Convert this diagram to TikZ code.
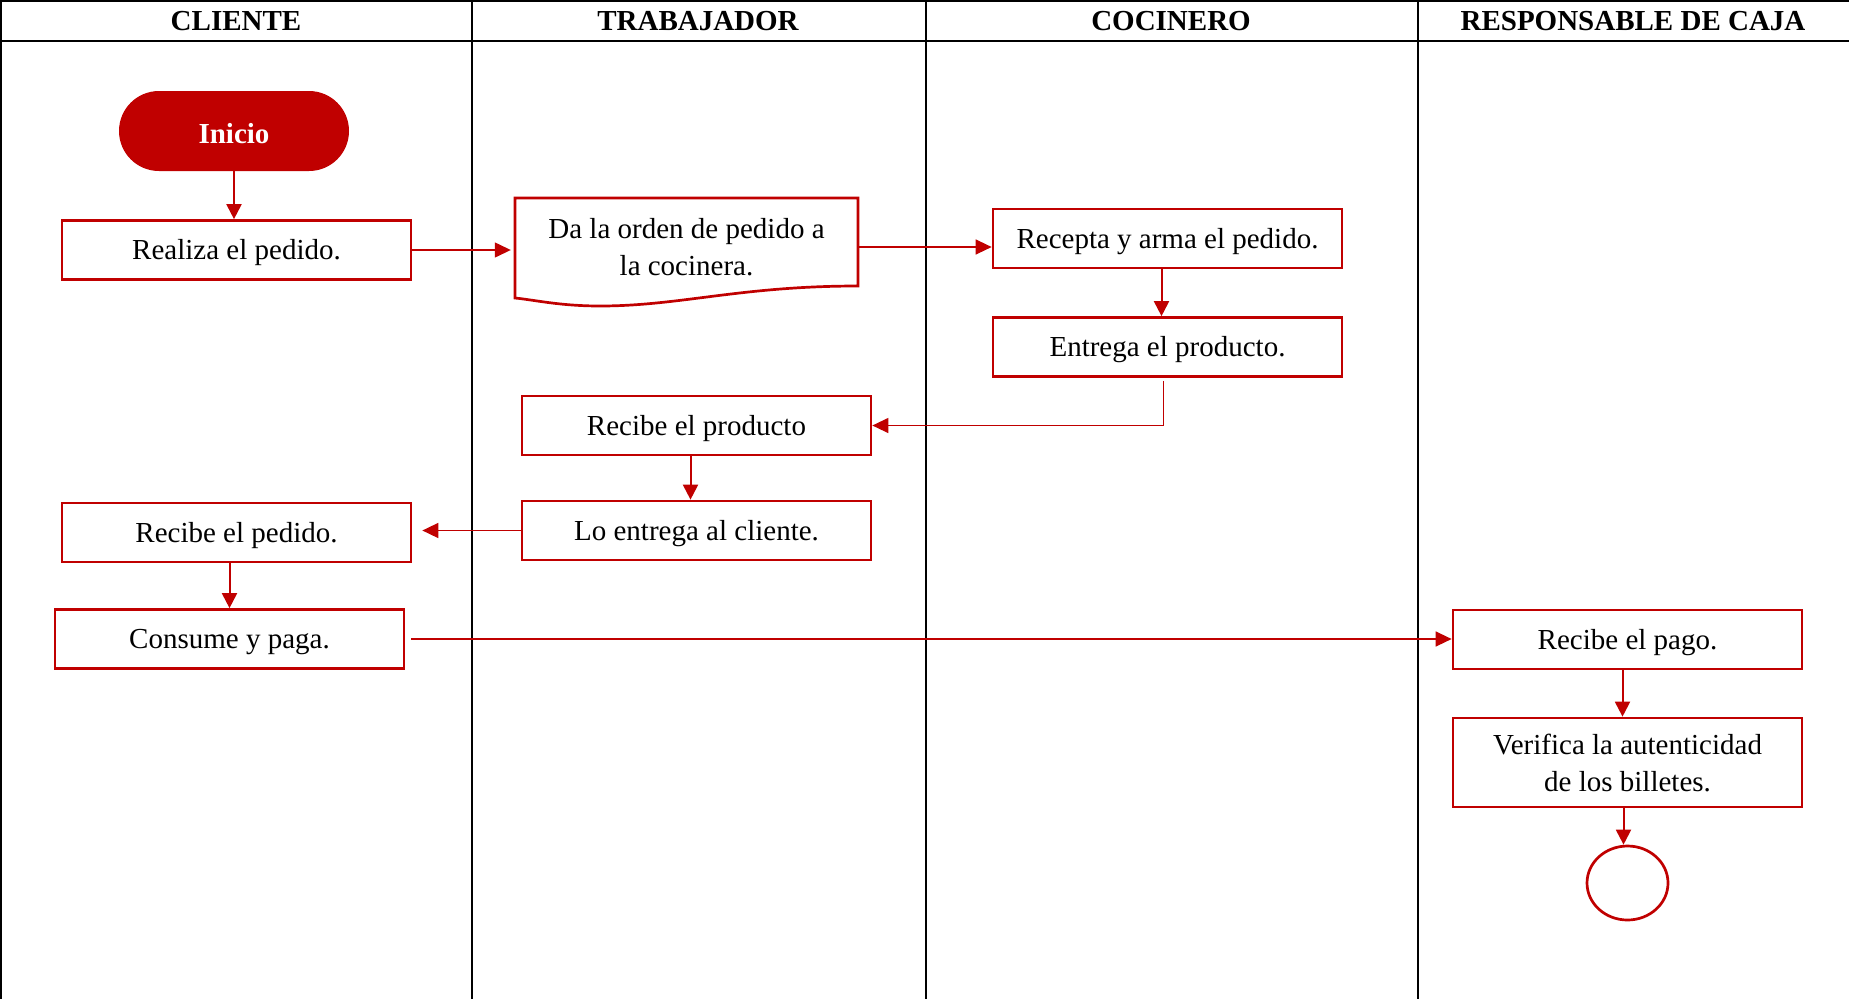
\documentclass[tikz,border=0pt]{standalone}
\usepackage{fontspec}
\setmainfont{Liberation Serif}
\usetikzlibrary{arrows.meta,calc,shapes.geometric}
\definecolor{rojo}{HTML}{C00000}
\begin{document}
\begin{tikzpicture}[x=1pt,y=-1pt,
  font=\fontsize{29}{37}\selectfont,
  boxbase/.style={draw=rojo,line width=2.7pt,fill=white,minimum width=349pt,minimum height=59pt,inner sep=0pt,align=center},
  proc/.style={boxbase,text height=26pt,text depth=6.5pt},
  lane/.style={draw=black,line width=2.2pt},
  head/.style={font=\fontsize{29}{34}\selectfont\bfseries,anchor=base},
  thick arrow/.style={draw=rojo,line width=2pt,-{Triangle[length=15pt,width=15pt]}},
  thin arrow/.style={draw=rojo,line width=1.3pt,-{Triangle[length=16pt,width=15pt]}}]
\useasboundingbox (0,0) rectangle (1849,999);
% swimlanes
\draw[lane] (0,1) -- (1849,1);
\draw[lane] (0,41) -- (1849,41);
\draw[lane] (1,0) -- (1,999);
\draw[lane] (472,0) -- (472,999);
\draw[lane] (926,0) -- (926,999);
\draw[lane] (1418,0) -- (1418,999);
\node[head] (h1) at (236,30) {CLIENTE};
\node[head] (h2) at (698,30) {TRABAJADOR};
\node[head] (h3) at (1171,30) {COCINERO};
\node[head] (h4) at (1633,30) {RESPONSABLE DE CAJA};
% nodes
\node[fill=rojo,text=white,font=\fontsize{29}{34}\selectfont\bfseries,minimum width=230pt,minimum height=80pt,rounded corners=40pt,inner sep=0pt,text height=25pt,text depth=0pt] (inicio) at (234,131) {Inicio};
\node[proc] (realiza) at (236.5,250) {Realiza el pedido.};
\draw[draw=rojo,line width=2.7pt,fill=white] (515,198) -- (858,198) -- (858,286)
  .. controls (740,286) and (680,306) .. (600,306)
  .. controls (560,306) and (535,300) .. (515,298) -- cycle;
\node[align=center,minimum width=343pt,minimum height=92pt,inner sep=0pt] (orden) at (686.5,247) {Da la orden de pedido a\\la cocinera.};
\node[proc] (recepta) at (1167.5,238.5) {Recepta y arma el pedido.};
\node[proc] (entrega) at (1167.5,347) {Entrega el producto.};
\node[proc] (rprod) at (696.5,425.5) {Recibe el producto};
\node[proc] (loentrega) at (696.5,530.5) {Lo entrega al cliente.};
\node[proc] (rpedido) at (236.5,532.5) {Recibe el pedido.};
\node[proc] (consume) at (229.5,639) {Consume y paga.};
\node[proc] (pago) at (1627.5,639.5) {Recibe el pago.};
\node[boxbase,minimum height=89pt] (verifica) at (1627.5,762.5) {Verifica la autenticidad\\de los billetes.};
\node[draw=rojo,line width=2.7pt,ellipse,minimum width=81pt,minimum height=74pt,inner sep=0pt] (fin) at (1627.5,883) {};
% connectors
\draw[thick arrow] (inicio.south) -- (inicio.south |- realiza.north);
\draw[thin arrow] (realiza.east) -- ([xshift=-4pt]realiza.east -| orden.west);
\draw[thin arrow] (orden.east) -- (orden.east -| recepta.west);
\draw[thick arrow] ([xshift=-6pt]recepta.south) -- ([xshift=-6pt]entrega.north);
\draw[thin arrow] ([xshift=-4pt,yshift=-3pt]entrega.south) |- (rprod.east);
\draw[thick arrow] ([xshift=-6pt]rprod.south) -- ([xshift=-6pt]loentrega.north);
\draw[thin arrow,line width=1.6pt] (loentrega.west) -- ([xshift=10pt]loentrega.west -| rpedido.east);
\draw[thick arrow] (consume.north |- rpedido.south) -- (consume.north);
\draw[thin arrow] ([xshift=6pt]consume.east) -- (consume.east -| pago.west);
\draw[thick arrow] ([xshift=-5pt]pago.south) -- ([xshift=-5pt]verifica.north);
\draw[thick arrow] ([xshift=-4pt]verifica.south) -- ([xshift=-4pt]verifica.south |- fin.north);
\end{tikzpicture}
\end{document}
